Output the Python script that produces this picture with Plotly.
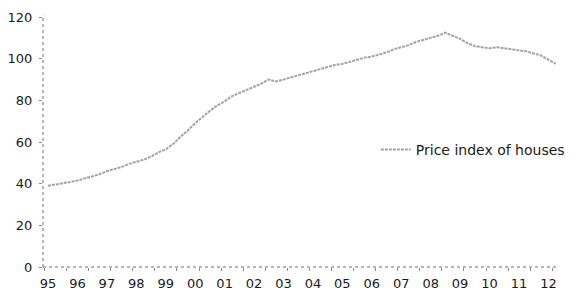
import plotly.graph_objects as go

# Quarterly readings (year fraction) and price index values
periods = [1995.0 + 0.25 * i for i in range(70)]
price_index = [
    39.0, 39.5, 40.0, 40.8,
    41.5, 42.5, 43.5, 44.5,
    46.0, 47.0, 48.0, 49.5,
    50.5, 51.5, 53.0, 55.0,
    56.5, 59.0, 62.5, 65.5,
    69.0, 72.0, 75.0, 77.5,
    79.5, 82.0, 83.5, 85.0,
    86.5, 88.0, 90.0, 89.0,
    90.0, 91.0, 92.0, 93.0,
    94.0, 95.0, 96.0, 97.0,
    97.5, 98.5, 99.5, 100.5,
    101.0, 102.0, 103.0, 104.5,
    105.5, 106.5, 108.0, 109.0,
    110.0, 111.0, 112.5, 111.0,
    109.5, 107.5, 106.0, 105.5,
    105.0, 105.5, 105.0, 104.5,
    104.0, 103.5, 102.5, 101.5,
    99.5, 97.5,
]
year_ticks = list(range(1995, 2013))
year_labels = [f"{y % 100:02d}" for y in year_ticks]
y_ticks = [0, 20, 40, 60, 80, 100, 120]

fig = go.Figure()
fig.add_trace(go.Scatter(
    x=periods, y=price_index, mode="lines",
    name="Price index of houses",
    line=dict(color="#a3a3a3", width=2, dash="3px,1px"),
))

family = "DejaVu Sans, Verdana, sans-serif"
tick_font = dict(family=family, size=13, color="#1a1a1a")
legend_font = dict(family=family, size=14, color="#1a1a1a")

# The page body has an 8px default margin, so the figure is sized to fit the window
fig.update_layout(
    width=569, height=292,
    margin=dict(l=35, r=7, t=9, b=33),
    paper_bgcolor="white", plot_bgcolor="white",
    font=tick_font,
    showlegend=True,
    legend=dict(x=0.645, y=0.468, xanchor="left", yanchor="middle",
                bgcolor="rgba(0,0,0,0)", font=legend_font, itemwidth=30,
                tracegroupgap=0),
    xaxis=dict(
        range=[1994.83, 2012.36], showgrid=False, zeroline=False,
        showline=False, tickvals=year_ticks, ticktext=year_labels,
        tickfont=tick_font,
        ticks="", ticklabelstandoff=7, automargin=False,
        minor=dict(tick0=1994.88, dtick=0.75, ticks="outside", ticklen=3,
                   tickcolor="#8a8a8a", showgrid=False),
    ),
    yaxis=dict(
        range=[0, 120], showgrid=False, zeroline=False, showline=False,
        tickvals=y_ticks, ticks="outside", ticklen=3, tickcolor="#8a8a8a",
        tickfont=tick_font, ticklabelstandoff=4, automargin=False,
    ),
    shapes=[
        dict(type="line", xref="x domain", yref="y domain", x0=0, x1=0,
             y0=0, y1=1.01, line=dict(color="#6e6e6e", width=1, dash="dot")),
        dict(type="line", xref="x domain", yref="y domain", x0=0, x1=1,
             y0=0, y1=0, line=dict(color="#6e6e6e", width=1, dash="dot")),
    ],
)

fig.write_html("out.html")
